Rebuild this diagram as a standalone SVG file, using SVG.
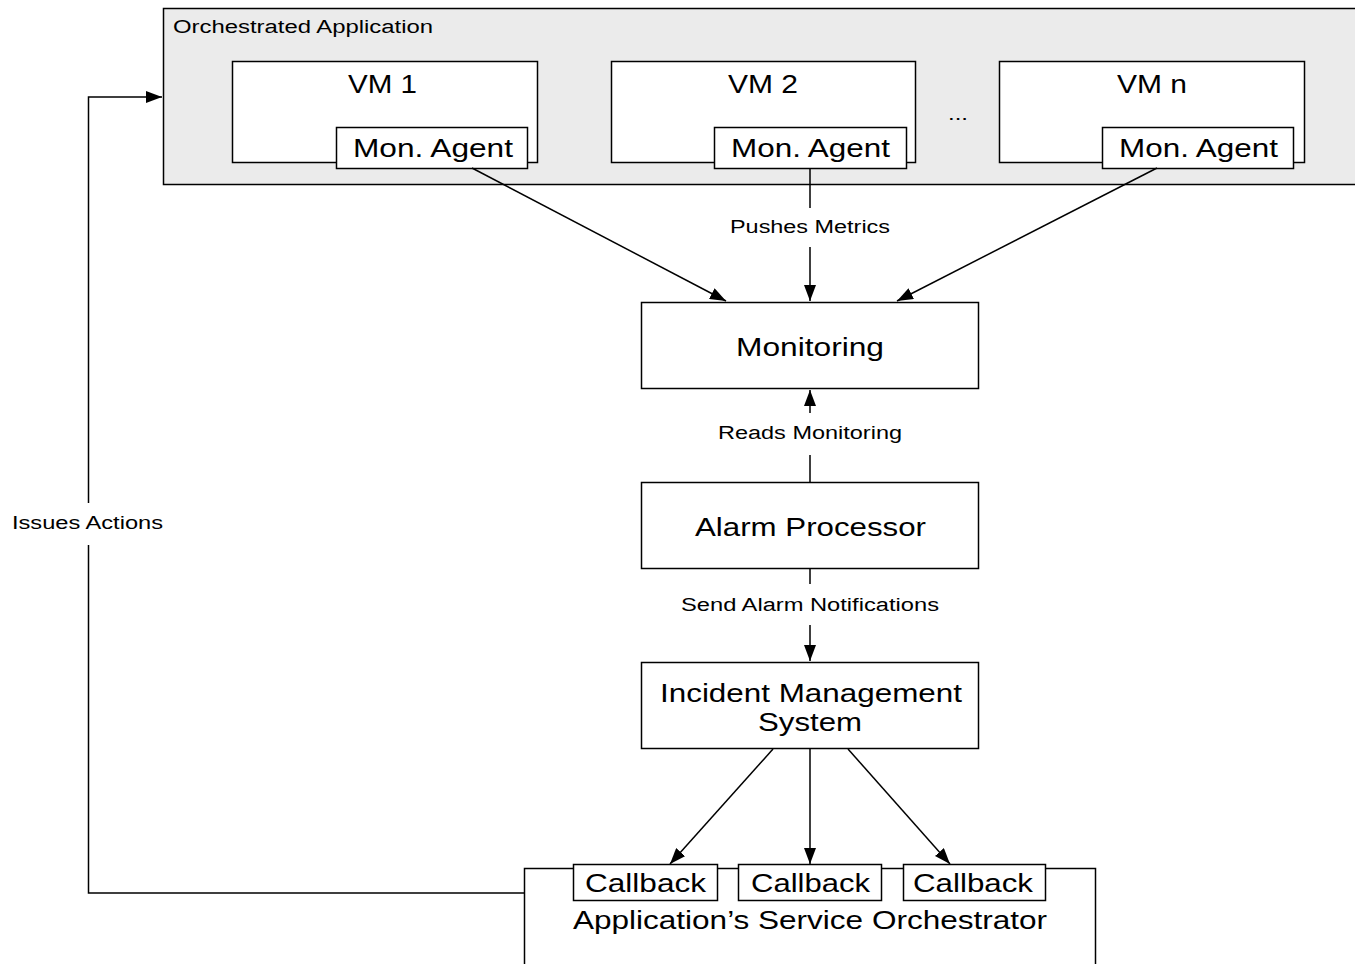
<svg xmlns="http://www.w3.org/2000/svg" width="1355" height="964" viewBox="0 0 1355 964">
  <defs>
    <marker id="arrow" viewBox="0 0 16 12" refX="16" refY="6" markerWidth="16" markerHeight="12" markerUnits="userSpaceOnUse" orient="auto">
      <path d="M0,0 L16,6 L0,12 Z" fill="#000"/>
    </marker>
    <style>
      .box { fill: #fff; stroke: #000; stroke-width: 1.5; }
      .group { fill: #ebebeb; stroke: #000; stroke-width: 1.5; }
      .node-text { font-family: "Liberation Sans", Arial, sans-serif; font-size: 26.5px; fill: #000; text-anchor: middle; }
      .label { font-family: "Liberation Sans", Arial, sans-serif; font-size: 18px; fill: #000; text-anchor: middle; }
      .edge { fill: none; stroke: #000; stroke-width: 1.5; }
    </style>
  </defs>
  <rect width="1355" height="964" fill="#fff"/>

  <!-- Orchestrated application container -->
  <g id="orchestrated-application">
    <rect class="group" x="163.5" y="8.5" width="1200" height="176"/>
    <text class="label" x="173" y="33" style="text-anchor:start" textLength="260" lengthAdjust="spacingAndGlyphs">Orchestrated Application</text>
    <text class="label" x="958" y="120" textLength="20" lengthAdjust="spacingAndGlyphs">...</text>
  </g>

  <g id="vm1">
    <rect class="box" x="232.5" y="61.5" width="305" height="101"/>
    <text class="node-text" x="382.5" y="93" textLength="69" lengthAdjust="spacingAndGlyphs">VM 1</text>
  </g>
  <g id="agent1">
    <rect class="box" x="336.5" y="127.5" width="191" height="41"/>
    <text class="node-text" x="433" y="157" textLength="160" lengthAdjust="spacingAndGlyphs">Mon. Agent</text>
  </g>

  <g id="vm2">
    <rect class="box" x="611.5" y="61.5" width="304" height="101"/>
    <text class="node-text" x="763" y="93" textLength="70" lengthAdjust="spacingAndGlyphs">VM 2</text>
  </g>
  <g id="agent2">
    <rect class="box" x="714.5" y="127.5" width="192" height="41"/>
    <text class="node-text" x="810.5" y="157" textLength="159" lengthAdjust="spacingAndGlyphs">Mon. Agent</text>
  </g>

  <g id="vmn">
    <rect class="box" x="999.5" y="61.5" width="305" height="101"/>
    <text class="node-text" x="1152" y="93" textLength="70" lengthAdjust="spacingAndGlyphs">VM n</text>
  </g>
  <g id="agentn">
    <rect class="box" x="1102.5" y="127.5" width="191" height="41"/>
    <text class="node-text" x="1198.5" y="157" textLength="159" lengthAdjust="spacingAndGlyphs">Mon. Agent</text>
  </g>

  <g id="monitoring">
    <rect class="box" x="641.5" y="302.5" width="337" height="86"/>
    <text class="node-text" x="810" y="356" textLength="148" lengthAdjust="spacingAndGlyphs">Monitoring</text>
  </g>

  <g id="alarm-processor">
    <rect class="box" x="641.5" y="482.5" width="337" height="86"/>
    <text class="node-text" x="810.5" y="536" textLength="231" lengthAdjust="spacingAndGlyphs">Alarm Processor</text>
  </g>

  <g id="incident-management">
    <rect class="box" x="641.5" y="662.5" width="337" height="86"/>
    <text class="node-text" x="811" y="702" textLength="302" lengthAdjust="spacingAndGlyphs">Incident Management</text>
    <text class="node-text" x="810" y="731" textLength="104" lengthAdjust="spacingAndGlyphs">System</text>
  </g>

  <g id="service-orchestrator">
    <rect class="box" x="524.5" y="868.5" width="571" height="110"/>
    <text class="node-text" x="810" y="929" textLength="474" lengthAdjust="spacingAndGlyphs">Application’s Service Orchestrator</text>
  </g>
  <g id="callback1">
    <rect class="box" x="573.5" y="864.5" width="144" height="36"/>
    <text class="node-text" x="645.5" y="892" textLength="121" lengthAdjust="spacingAndGlyphs">Callback</text>
  </g>
  <g id="callback2">
    <rect class="box" x="738.5" y="864.5" width="143" height="36"/>
    <text class="node-text" x="810.5" y="892" textLength="119" lengthAdjust="spacingAndGlyphs">Callback</text>
  </g>
  <g id="callback3">
    <rect class="box" x="903.5" y="864.5" width="142" height="36"/>
    <text class="node-text" x="973" y="892" textLength="120" lengthAdjust="spacingAndGlyphs">Callback</text>
  </g>

  <!-- Connectors -->
  <g id="connectors">
    <line class="edge" x1="472" y1="168" x2="726" y2="301" marker-end="url(#arrow)"/>
    <line class="edge" x1="810" y1="169" x2="810" y2="208"/>
    <line class="edge" x1="810" y1="247" x2="810" y2="301" marker-end="url(#arrow)"/>
    <text class="label" x="810" y="233" textLength="160" lengthAdjust="spacingAndGlyphs">Pushes Metrics</text>
    <line class="edge" x1="1157" y1="168" x2="897" y2="301" marker-end="url(#arrow)"/>

    <line class="edge" x1="810" y1="482" x2="810" y2="455"/>
    <line class="edge" x1="810" y1="413" x2="810" y2="390" marker-end="url(#arrow)"/>
    <text class="label" x="810" y="439" textLength="184" lengthAdjust="spacingAndGlyphs">Reads Monitoring</text>

    <line class="edge" x1="810" y1="569" x2="810" y2="584"/>
    <line class="edge" x1="810" y1="625" x2="810" y2="661" marker-end="url(#arrow)"/>
    <text class="label" x="810" y="611" textLength="258" lengthAdjust="spacingAndGlyphs">Send Alarm Notifications</text>

    <line class="edge" x1="773" y1="749" x2="670" y2="864" marker-end="url(#arrow)"/>
    <line class="edge" x1="810" y1="749" x2="810" y2="864" marker-end="url(#arrow)"/>
    <line class="edge" x1="848" y1="749" x2="950" y2="864" marker-end="url(#arrow)"/>

    <polyline class="edge" points="524,893 88.5,893 88.5,545"/>
    <polyline class="edge" points="88.5,503 88.5,97 162,97" marker-end="url(#arrow)"/>
    <text class="label" x="87.5" y="529" textLength="151" lengthAdjust="spacingAndGlyphs">Issues Actions</text>
  </g>
</svg>
